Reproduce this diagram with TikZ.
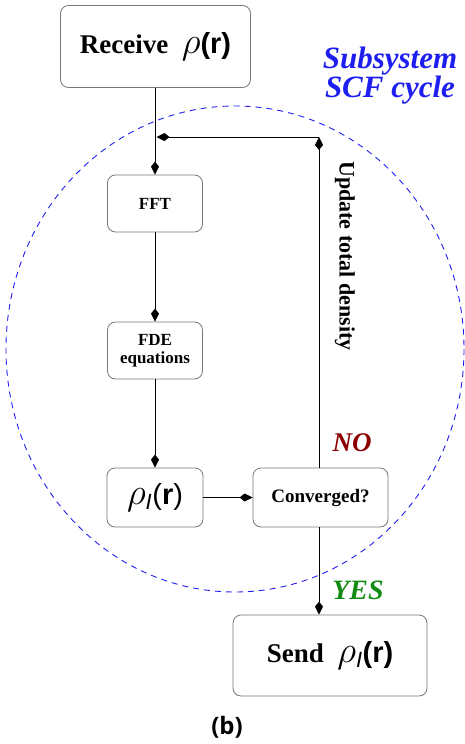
\RequirePackage{fix-cm}
\documentclass[tikz,border=0pt]{standalone}
\usepackage{fontspec}
\setmainfont{Liberation Serif}
\newfontfamily\sansfnt{Liberation Sans}
\newfontfamily\labfnt{Open Sans}
\usetikzlibrary{arrows.meta}
\definecolor{boxgray}{RGB}{120,120,120}
\definecolor{cycblue}{RGB}{30,30,240}
\definecolor{nored}{RGB}{140,0,0}
\definecolor{yesgreen}{RGB}{20,140,20}
\newcommand{\rr}{{\fontsize{29}{31}\selectfont\sansfnt(\textbf{r})}}
\newcommand{\rhobig}{{\fontsize{37}{39}\selectfont$\rho$}}
\newcommand{\rhoI}{{\fontsize{37}{39}\selectfont$\rho_{\hbox{\fontsize{22}{24}\selectfont\sansfnt\mdseries\itshape I}}$}}
\begin{document}
\begin{tikzpicture}[x=1pt,y=-1pt,
  box/.style={draw=boxgray,line width=0.8pt,rounded corners=8pt,fill=white,align=center,inner sep=0pt},
  flow/.style={line width=0.9pt,-{Kite[length=13pt,width=8pt,inset=5pt]}},
  plain/.style={line width=0.9pt}]
\useasboundingbox (0,0) rectangle (464,744);
% cycle ellipse
\draw[cycblue,dashed,dash pattern=on 6pt off 5pt,line width=0.9pt] (235,349) ellipse [x radius=229, y radius=243];
% boxes
\node[box,minimum width=190pt,minimum height=82pt] (receive) at (155.5,46.5)
  {\fontsize{27}{30}\selectfont\bfseries Receive\ \ \rhobig\rr};
\node[box,minimum width=95pt,minimum height=57pt,font=\fontsize{17}{19}\selectfont\bfseries] (fft) at (155,203.5)
  {FFT};
\node[box,minimum width=95pt,minimum height=57pt,font=\fontsize{17}{18}\selectfont\bfseries] (fde) at (155,350.5)
  {FDE\\equations};
\node[box,minimum width=96pt,minimum height=59pt] (rho) at (155,497.5)
  {\rhoI\rr};
\node[box,minimum width=135pt,minimum height=59pt,font=\fontsize{19}{21}\selectfont\bfseries] (conv) at (320.5,497.5)
  {Converged?};
\node[box,minimum width=194pt,minimum height=81pt] (send) at (330,655.5)
  {\fontsize{27}{30}\selectfont\bfseries Send\ \ \rhoI\rr};
% connectors
\coordinate (corner) at (319,137);
\coordinate (join) at (156.5,137);
\draw[flow] (receive.south -| fft.north) -- (fft.north);
\draw[flow] (fft) -- (fde);
\draw[flow] (fde) -- (rho);
\draw[flow] (rho) -- (conv);
\draw[flow] (conv.north -| corner) -- (corner);
\draw[flow] (corner) -- (join);
\draw[flow] (conv.south -| corner) -- (send.north -| corner);
% labels
\node[rotate=-90,font=\fontsize{22}{24}\selectfont\bfseries] (upd) at (345,256) {Update total density};
\node[text=nored,font=\fontsize{27}{30}\selectfont\bfseries\itshape] (no) at (352,443) {NO};
\node[text=yesgreen,font=\fontsize{28}{30}\selectfont\bfseries\itshape] (yes) at (358,590) {YES};
\node[text=cycblue,align=center,font=\fontsize{31}{29}\selectfont\bfseries\itshape] (cyc) at (390,76) {Subsystem\\SCF cycle};
\node[font=\fontsize{24}{26}\selectfont\labfnt\bfseries] (lab) at (227,727) {(b)};
\end{tikzpicture}
\end{document}
